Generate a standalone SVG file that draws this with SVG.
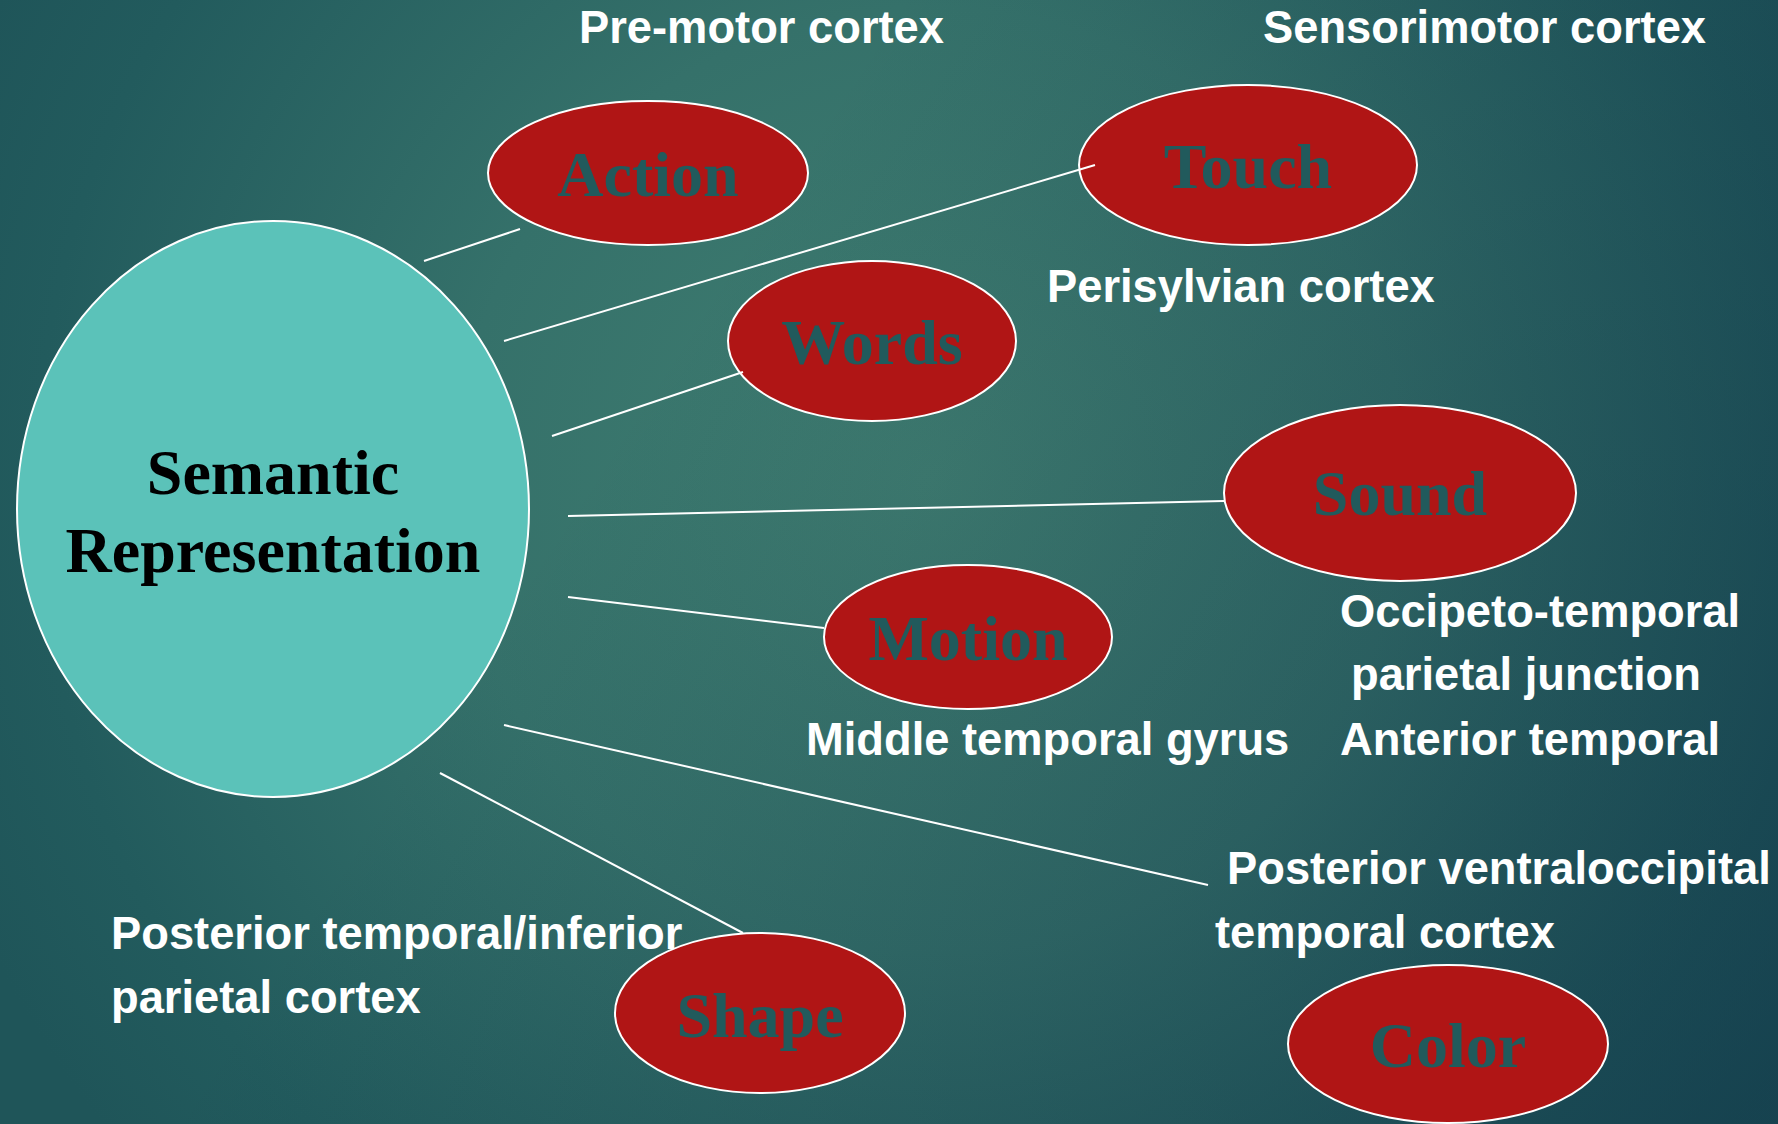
<svg xmlns="http://www.w3.org/2000/svg" width="1778" height="1124" viewBox="0 0 1778 1124">
<defs>
<radialGradient id="bg" gradientUnits="userSpaceOnUse" cx="930" cy="480" r="1050">
<stop offset="0" stop-color="#407e71"/>
<stop offset="0.45" stop-color="#35716a"/>
<stop offset="0.85" stop-color="#225b5d"/>
<stop offset="1" stop-color="#1f5559"/>
</radialGradient>
<linearGradient id="shade" gradientUnits="userSpaceOnUse" x1="700" y1="300" x2="1778" y2="1000">
<stop offset="0" stop-color="#0c2c44" stop-opacity="0"/>
<stop offset="1" stop-color="#0c2c44" stop-opacity="0.45"/>
</linearGradient>
<style>
.lbl{font-family:"Liberation Sans",Arial,sans-serif;font-weight:bold;font-size:45.3px;fill:#ffffff}
.node ellipse{fill:#b01515;stroke:#ffffff;stroke-width:2}
.node text{font-family:"Liberation Serif","Times New Roman",serif;font-weight:bold;font-size:64px;fill:#215a5c;text-anchor:middle}
#semantic ellipse{fill:#5bc2b9;stroke:#ffffff;stroke-width:2}
#semantic text{font-family:"Liberation Serif","Times New Roman",serif;font-weight:bold;font-size:64px;fill:#000000;text-anchor:middle}
#connectors line{stroke:#ffffff;stroke-width:2}
</style>
</defs>
<rect width="1778" height="1124" fill="url(#bg)"/>
<rect width="1778" height="1124" fill="url(#shade)"/>
<g id="semantic">
<ellipse cx="273" cy="509" rx="256" ry="288"/>
<text x="273" y="494">Semantic</text>
<text x="273" y="572">Representation</text>
</g>
<g id="action" class="node">
<ellipse cx="648" cy="173" rx="160" ry="72"/>
<text x="648" y="196">Action</text>
</g>
<g id="touch" class="node">
<ellipse cx="1248" cy="165" rx="169" ry="80"/>
<text x="1248" y="188">Touch</text>
</g>
<g id="words" class="node">
<ellipse cx="872" cy="341" rx="144" ry="80"/>
<text x="872" y="364">Words</text>
</g>
<g id="sound" class="node">
<ellipse cx="1400" cy="493" rx="176" ry="88"/>
<text x="1400" y="515">Sound</text>
</g>
<g id="motion" class="node">
<ellipse cx="968" cy="637" rx="144" ry="72"/>
<text x="968" y="660">Motion</text>
</g>
<g id="shape" class="node">
<ellipse cx="760" cy="1013" rx="145" ry="80"/>
<text x="760" y="1037">Shape</text>
</g>
<g id="color" class="node">
<ellipse cx="1448" cy="1044" rx="160" ry="79"/>
<text x="1448" y="1067">Color</text>
</g>
<g id="connectors">
<line x1="424" y1="261" x2="520" y2="229"/>
<line x1="504" y1="341" x2="1095" y2="165"/>
<line x1="552" y1="436" x2="743" y2="372"/>
<line x1="568" y1="516" x2="1224" y2="501"/>
<line x1="568" y1="597" x2="824" y2="628"/>
<line x1="504" y1="725" x2="1208" y2="885"/>
<line x1="440" y1="773" x2="743" y2="933"/>
</g>
<g id="labels">
<text class="lbl" x="579" y="43">Pre-motor cortex</text>
<text class="lbl" x="1263" y="43">Sensorimotor cortex</text>
<text class="lbl" x="1047" y="302">Perisylvian cortex</text>
<text class="lbl" x="1340" y="627">Occipeto-temporal</text>
<text class="lbl" x="1351" y="690">parietal junction</text>
<text class="lbl" x="1340" y="755">Anterior temporal</text>
<text class="lbl" x="806" y="755">Middle temporal gyrus</text>
<text class="lbl" x="1227" y="884">Posterior ventraloccipital</text>
<text class="lbl" x="1215" y="948">temporal cortex</text>
<text class="lbl" x="111" y="949">Posterior temporal/inferior</text>
<text class="lbl" x="111" y="1013">parietal cortex</text>
</g>
</svg>
